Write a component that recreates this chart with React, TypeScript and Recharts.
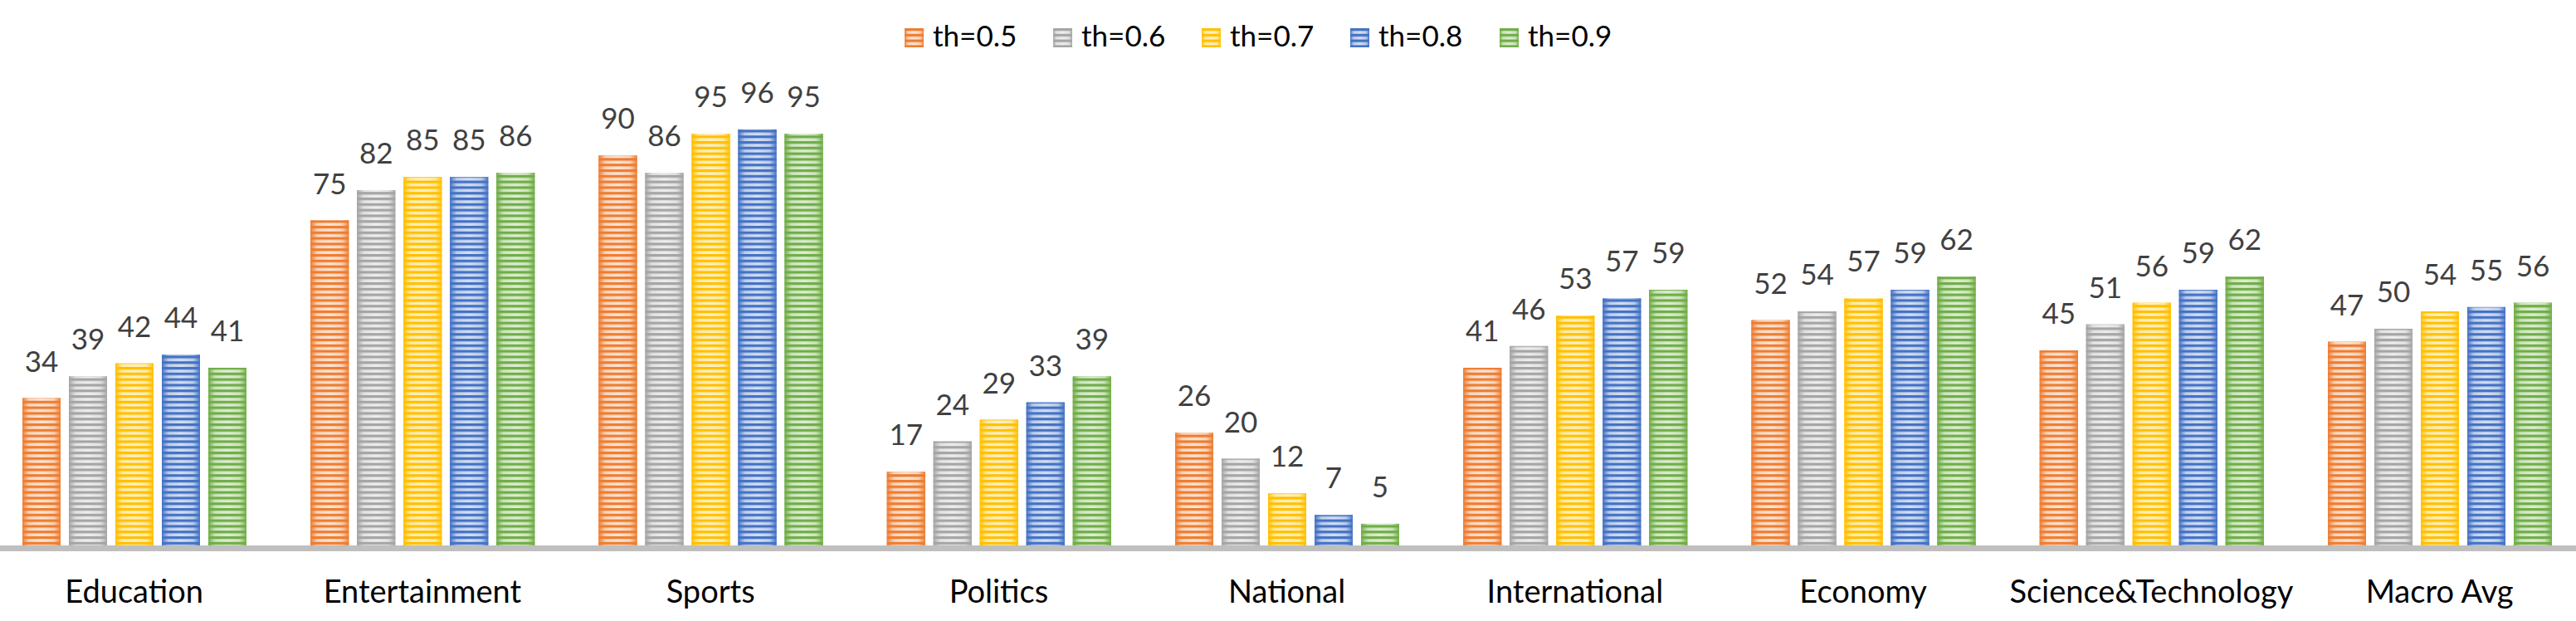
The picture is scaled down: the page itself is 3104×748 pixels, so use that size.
import React from 'react';
import { BarChart, Bar, XAxis, YAxis, LabelList } from 'recharts';

const categories = ['Education', 'Entertainment', 'Sports', 'Politics', 'National', 'International', 'Economy', 'Science&Technology', 'Macro Avg'];
const th05 = [34, 75, 90, 17, 26, 41, 52, 45, 47];
const th06 = [39, 82, 86, 24, 20, 46, 54, 51, 50];
const th07 = [42, 85, 95, 29, 12, 53, 57, 56, 54];
const th08 = [44, 85, 96, 33, 7, 57, 59, 59, 55];
const th09 = [41, 86, 95, 39, 5, 59, 62, 62, 56];
const seriesNames = ['th=0.5', 'th=0.6', 'th=0.7', 'th=0.8', 'th=0.9'];
const seriesKeys = ['t5', 't6', 't7', 't8', 't9'];
const seriesColors = ['#ED7D31', '#A5A5A5', '#FFC000', '#4472C4', '#70AD47'];
const seriesPale = ['#FBE3D3', '#EDEDED', '#FFF0C2', '#D3DEF1', '#DDEDD3'];

const data = categories.map((name, i) => ({
  name,
  t5: th05[i],
  t6: th06[i],
  t7: th07[i],
  t8: th08[i],
  t9: th09[i],
}));

const FONT = 'Lato, "Open Sans", sans-serif';

function Defs() {
  return (
    <defs>
      {seriesColors.map((c, i) => (
        <linearGradient key={'g' + i} id={'grad-' + i} x1="0" y1="0" x2="1" y2="0">
          <stop offset="0" stopColor={c} />
          <stop offset="0.18" stopColor={seriesPale[i]} stopOpacity={0.85} />
          <stop offset="0.5" stopColor={seriesPale[i]} />
          <stop offset="0.82" stopColor={seriesPale[i]} stopOpacity={0.85} />
          <stop offset="1" stopColor={c} />
        </linearGradient>
      ))}
      {seriesColors.map((c, i) => (
        <pattern key={'p' + i} id={'stripe-' + i} patternUnits="userSpaceOnUse" width="10" height="6.8">
          <rect x="0" y="0" width="10" height="3.2" fill={c} />
        </pattern>
      ))}
    </defs>
  );
}

function makeShape(idx: number) {
  return (props: any) => {
    const { x, y, width, height } = props;
    if (!height || height <= 0) return <g />;
    return (
      <g>
        <rect x={x} y={y} width={width} height={height} fill={seriesColors[idx]} />
        <rect x={x} y={y} width={width} height={height} fill={`url(#grad-${idx})`} />
        <rect x={x} y={y} width={width} height={height} fill={`url(#stripe-${idx})`} />
      </g>
    );
  };
}

const CategoryTick = (props: any) => {
  const { x, y, payload } = props;
  return (
    <text x={x} y={y} dy={69} textAnchor="middle" fontSize={38} fontFamily={FONT} fill="#000000">
      {payload.value}
    </text>
  );
};

const legendX = [1090, 1269, 1448, 1627, 1807];

export default function App() {
  return (
    <div style={{ position: 'absolute', left: 0, top: 0, width: 3104, height: 748, overflow: 'hidden', background: '#ffffff', fontFamily: FONT }}>
      <svg width={3104} height={80} style={{ position: 'absolute', left: 0, top: 0 }}>
        <Defs />
        {seriesNames.map((n, i) => (
          <g key={n}>
            <rect x={legendX[i]} y={34} width={23} height={23} fill={seriesColors[i]} />
            <rect x={legendX[i]} y={34} width={23} height={23} fill={`url(#grad-${i})`} />
            <rect x={legendX[i]} y={34} width={23} height={23} fill={`url(#stripe-${i})`} />
            <text x={legendX[i] + 34} y={56} fontSize={35} fontFamily={FONT} fill="#000000">{n}</text>
          </g>
        ))}
      </svg>
      <div style={{ position: 'absolute', left: -12.1, top: 0 }}>
        <BarChart
          width={3140}
          height={748}
          data={data}
          margin={{ top: 135, right: 14.75, bottom: 0, left: 0 }}
          barSize={46}
          barGap={10}
        >
          <XAxis
            dataKey="name"
            height={91}
            interval={0}
            tickLine={false}
            tickSize={0}
            tickMargin={0}
            tick={<CategoryTick />}
            axisLine={{ stroke: '#BFBFBF', strokeWidth: 7, transform: 'translate(0,3.5)' }}
          />
          <YAxis hide domain={[0, 100]} />
          {seriesKeys.map((k, i) => (
            <Bar key={k} dataKey={k} name={seriesNames[i]} fill={seriesColors[i]} isAnimationActive={false} shape={makeShape(i)}>
              <LabelList dataKey={k} position="top" offset={32} fill="#404040" fontSize={35} fontFamily={FONT} />
            </Bar>
          ))}
        </BarChart>
      </div>
    </div>
  );
}
